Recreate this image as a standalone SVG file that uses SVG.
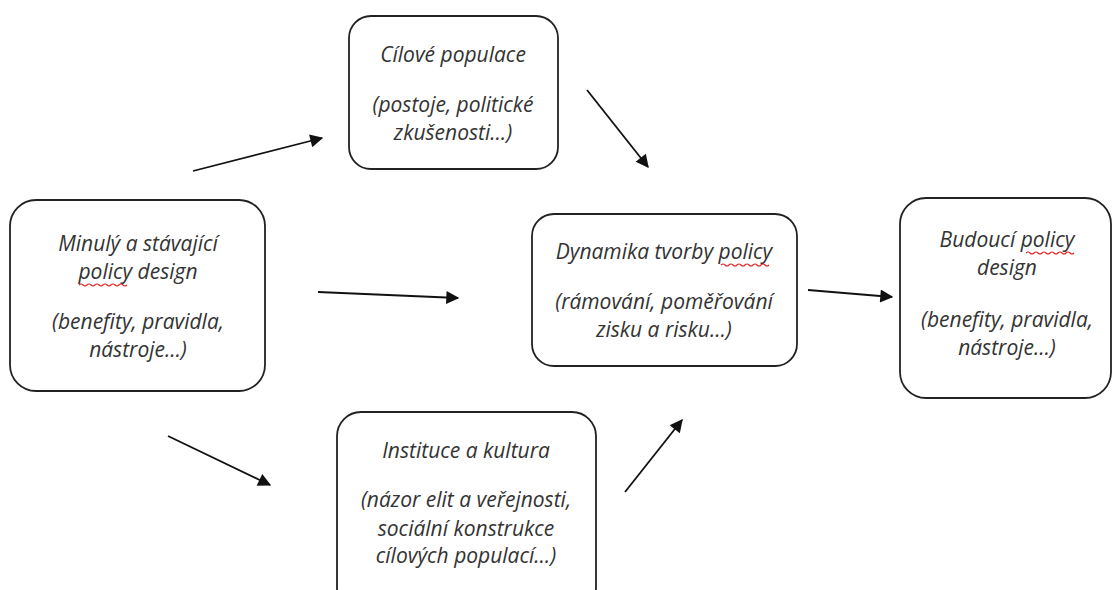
<svg xmlns="http://www.w3.org/2000/svg" width="1113" height="590" viewBox="0 0 1113 590">
<style>
.box{fill:#fff;stroke:#222;stroke-width:1.8}
.t{font-family:"Open Sans","DejaVu Sans",sans-serif;font-style:italic;font-size:21px;fill:#333;text-anchor:middle}
.c{stroke:#111;stroke-width:1.8;fill:none;marker-end:url(#ah)}
.sq{stroke:#d22;stroke-width:1.1;fill:none}
</style>
<defs>
<marker id="ah" viewBox="0 0 10 10" refX="9" refY="5" markerWidth="14" markerHeight="13" markerUnits="userSpaceOnUse" orient="auto">
<path d="M0,0 L10,5 L0,10 z" fill="#111"/>
</marker>
</defs>
<rect width="1113" height="590" fill="#fff"/>
<g id="n1">
<rect class="box" x="10" y="200" width="255" height="191" rx="26"/>
<text class="t" x="138" y="251">Minulý a stávající</text>
<text class="t" x="138" y="279">policy design</text>
<text class="t" x="138" y="329">(benefity, pravidla,</text>
<text class="t" x="138" y="357">nástroje…)</text>
<path class="sq" d="M79,285 q2,-2 4,0 t4,0 t4,0 t4,0 t4,0 t4,0 t4,0 t4,0 t4,0 t4,0 t4,0 t4,0"/>
</g>
<g id="n2">
<rect class="box" x="349" y="16" width="209" height="153" rx="22"/>
<text class="t" x="453" y="62">Cílové populace</text>
<text class="t" x="453" y="112">(postoje, politické</text>
<text class="t" x="453" y="140">zkušenosti…)</text>
</g>
<g id="n3">
<rect class="box" x="532" y="214" width="265" height="152" rx="22"/>
<text class="t" x="664" y="259">Dynamika tvorby policy</text>
<text class="t" x="664" y="309">(rámování, poměřování</text>
<text class="t" x="664" y="337">zisku a risku…)</text>
<path class="sq" d="M721,265 q2,-2 4,0 t4,0 t4,0 t4,0 t4,0 t4,0 t4,0 t4,0 t4,0 t4,0 t4,0 t4,0"/>
</g>
<g id="n4">
<rect class="box" x="900" y="198" width="211" height="200" rx="26"/>
<text class="t" x="1007" y="247">Budoucí policy</text>
<text class="t" x="1007" y="275">design</text>
<text class="t" x="1007" y="327">(benefity, pravidla,</text>
<text class="t" x="1007" y="355">nástroje…)</text>
<path class="sq" d="M1026,253 q2,-2 4,0 t4,0 t4,0 t4,0 t4,0 t4,0 t4,0 t4,0 t4,0 t4,0 t4,0 t4,0"/>
</g>
<g id="n5">
<rect class="box" x="337" y="412" width="259" height="200" rx="24"/>
<text class="t" x="466" y="458">Instituce a kultura</text>
<text class="t" x="466" y="507">(názor elit a veřejnosti,</text>
<text class="t" x="466" y="536">sociální konstrukce</text>
<text class="t" x="466" y="563">cílových populací…)</text>
</g>
<g id="connectors">
<line class="c" x1="193" y1="171" x2="322" y2="138"/>
<line class="c" x1="587" y1="90" x2="648" y2="167"/>
<line class="c" x1="318" y1="292" x2="458" y2="298"/>
<line class="c" x1="808" y1="290" x2="892" y2="297"/>
<line class="c" x1="168" y1="436" x2="270" y2="485"/>
<line class="c" x1="625" y1="492" x2="682" y2="420"/>
</g>
</svg>
